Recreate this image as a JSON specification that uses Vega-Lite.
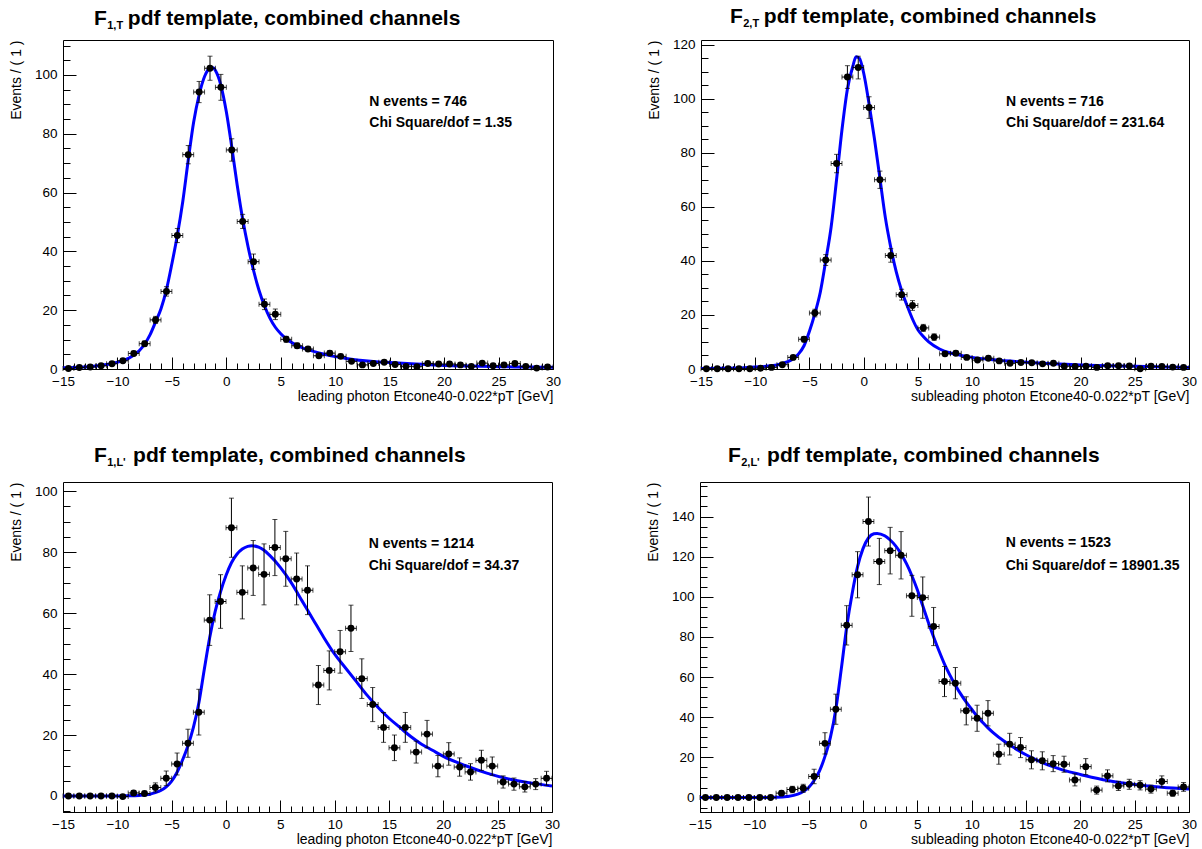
{
"$schema": "https://vega.github.io/schema/vega-lite/v6.json",
"background": "white",
"padding": {"left": 8, "top": 5, "right": 5, "bottom": 0},
"config": {
  "font": "Liberation Sans",
  "view": {"stroke": "black", "strokeWidth": 1},
  "axis": {"grid": false, "domain": false, "labelFont": "Liberation Sans", "labelFontSize": 13.5, "labelColor": "black", "titleFont": "Liberation Sans", "titleFontSize": 14, "titleFontWeight": "normal", "titleColor": "black", "tickColor": "black", "tickWidth": 1, "labelFlush": false, "labelOverlap": false},
  "title": {"font": "Liberation Sans", "fontSize": 21, "fontWeight": "bold", "color": "black", "anchor": "start", "frame": "group", "subtitleFont": "Liberation Sans", "subtitleFontSize": 11, "subtitleFontWeight": "bold", "subtitleColor": "black", "subtitlePadding": -9}
},
"datasets": {
  "pts1": [
    {"x": -14.5, "y": 0.2, "ex": 0.5, "ey": 0.3}, {"x": -13.5, "y": 0.5, "ex": 0.5, "ey": 0.3}, {"x": -12.5, "y": 0.7, "ex": 0.5, "ey": 0.4}, {"x": -11.5, "y": 1.1, "ex": 0.5, "ey": 0.4}, {"x": -10.5, "y": 1.8, "ex": 0.5, "ey": 0.5}, {"x": -9.5, "y": 2.8, "ex": 0.5, "ey": 0.6}, {"x": -8.5, "y": 5.3, "ex": 0.5, "ey": 0.7}, {"x": -7.5, "y": 8.6, "ex": 0.5, "ey": 0.9}, {"x": -6.5, "y": 16.7, "ex": 0.5, "ey": 1.2}, {"x": -5.5, "y": 26.4, "ex": 0.5, "ey": 1.6}, {"x": -4.5, "y": 45.4, "ex": 0.5, "ey": 2.4}, {"x": -3.5, "y": 72.9, "ex": 0.5, "ey": 3.1}, {"x": -2.5, "y": 94.2, "ex": 0.5, "ey": 3.6}, {"x": -1.5, "y": 102.3, "ex": 0.5, "ey": 4.1}, {"x": -0.5, "y": 95.8, "ex": 0.5, "ey": 4.4}, {"x": 0.5, "y": 74.5, "ex": 0.5, "ey": 3.8}, {"x": 1.5, "y": 50.2, "ex": 0.5, "ey": 2.4}, {"x": 2.5, "y": 36.5, "ex": 0.5, "ey": 2.6}, {"x": 3.5, "y": 22.0, "ex": 0.5, "ey": 1.8}, {"x": 4.5, "y": 18.6, "ex": 0.5, "ey": 1.8}, {"x": 5.5, "y": 10.1, "ex": 0.5, "ey": 1.0}, {"x": 6.5, "y": 7.9, "ex": 0.5, "ey": 0.9}, {"x": 7.5, "y": 6.8, "ex": 0.5, "ey": 0.8}, {"x": 8.5, "y": 4.5, "ex": 0.5, "ey": 0.7}, {"x": 9.5, "y": 5.4, "ex": 0.5, "ey": 0.8}, {"x": 10.5, "y": 4.3, "ex": 0.5, "ey": 0.7}, {"x": 11.5, "y": 2.6, "ex": 0.5, "ey": 0.5}, {"x": 12.5, "y": 1.4, "ex": 0.5, "ey": 0.5}, {"x": 13.5, "y": 1.9, "ex": 0.5, "ey": 0.5}, {"x": 14.5, "y": 2.3, "ex": 0.5, "ey": 0.5}, {"x": 15.5, "y": 1.5, "ex": 0.5, "ey": 0.4}, {"x": 16.5, "y": 0.9, "ex": 0.5, "ey": 0.4}, {"x": 17.5, "y": 0.8, "ex": 0.5, "ey": 0.4}, {"x": 18.5, "y": 1.9, "ex": 0.5, "ey": 0.4}, {"x": 19.5, "y": 1.7, "ex": 0.5, "ey": 0.4}, {"x": 20.5, "y": 1.7, "ex": 0.5, "ey": 0.4}, {"x": 21.5, "y": 1.4, "ex": 0.5, "ey": 0.4}, {"x": 22.5, "y": 0.9, "ex": 0.5, "ey": 0.4}, {"x": 23.5, "y": 2.0, "ex": 0.5, "ey": 0.5}, {"x": 24.5, "y": 1.1, "ex": 0.5, "ey": 0.4}, {"x": 25.5, "y": 1.4, "ex": 0.5, "ey": 0.4}, {"x": 26.5, "y": 1.9, "ex": 0.5, "ey": 0.5}, {"x": 27.5, "y": 0.9, "ex": 0.5, "ey": 0.3}, {"x": 28.5, "y": 0.3, "ex": 0.5, "ey": 0.3}, {"x": 29.5, "y": 0.7, "ex": 0.5, "ey": 0.3}
  ],
  "fit1": [
    {"x": -15, "y": 0.4}, {"x": -14, "y": 0.5}, {"x": -13, "y": 0.7}, {"x": -12, "y": 1.0}, {"x": -11, "y": 1.5}, {"x": -10, "y": 2.3}, {"x": -9, "y": 3.6}, {"x": -8, "y": 6.2}, {"x": -7.5, "y": 8.5}, {"x": -7, "y": 11.7}, {"x": -6.5, "y": 16.0}, {"x": -6, "y": 20.5}, {"x": -5.5, "y": 27.0}, {"x": -5, "y": 35.8}, {"x": -4.5, "y": 45.5}, {"x": -4, "y": 57.0}, {"x": -3.5, "y": 71.0}, {"x": -3, "y": 84.0}, {"x": -2.5, "y": 93.2}, {"x": -2, "y": 99.5}, {"x": -1.5, "y": 102.3}, {"x": -1.2, "y": 102.5}, {"x": -1, "y": 101.5}, {"x": -0.5, "y": 96.5}, {"x": 0, "y": 87.5}, {"x": 0.5, "y": 75.5}, {"x": 1, "y": 62.5}, {"x": 1.5, "y": 51.0}, {"x": 2, "y": 41.5}, {"x": 2.5, "y": 33.5}, {"x": 3, "y": 26.8}, {"x": 3.5, "y": 21.5}, {"x": 4, "y": 17.3}, {"x": 4.5, "y": 14.2}, {"x": 5, "y": 12.0}, {"x": 5.5, "y": 10.3}, {"x": 6, "y": 9.0}, {"x": 6.5, "y": 8.0}, {"x": 7, "y": 7.2}, {"x": 8, "y": 6.0}, {"x": 9, "y": 5.0}, {"x": 10, "y": 4.2}, {"x": 11, "y": 3.6}, {"x": 12, "y": 3.1}, {"x": 13, "y": 2.7}, {"x": 14, "y": 2.4}, {"x": 15, "y": 2.2}, {"x": 17, "y": 1.8}, {"x": 20, "y": 1.2}, {"x": 22, "y": 1.0}, {"x": 25, "y": 0.8}, {"x": 28, "y": 0.65}, {"x": 30, "y": 0.6}
  ],
  "stats1": [{"x": 13.13, "y": 90.9, "t": "N events = 746"}, {"x": 13.13, "y": 83.6, "t": "Chi Square/dof = 1.35"}],
  "pts2": [
    {"x": -14.5, "y": 0.1, "ex": 0.5, "ey": 0.1}, {"x": -13.5, "y": 0.1, "ex": 0.5, "ey": 0.1}, {"x": -12.5, "y": 0.1, "ex": 0.5, "ey": 0.1}, {"x": -11.5, "y": 0.1, "ex": 0.5, "ey": 0.1}, {"x": -10.5, "y": 0.1, "ex": 0.5, "ey": 0.1}, {"x": -9.5, "y": 0.3, "ex": 0.5, "ey": 0.2}, {"x": -8.5, "y": 0.6, "ex": 0.5, "ey": 0.3}, {"x": -7.5, "y": 1.6, "ex": 0.5, "ey": 0.4}, {"x": -6.5, "y": 4.3, "ex": 0.5, "ey": 0.7}, {"x": -5.5, "y": 11.0, "ex": 0.5, "ey": 1.0}, {"x": -4.5, "y": 20.7, "ex": 0.5, "ey": 1.4}, {"x": -3.5, "y": 40.3, "ex": 0.5, "ey": 2.0}, {"x": -2.5, "y": 76.0, "ex": 0.5, "ey": 3.4}, {"x": -1.5, "y": 108.0, "ex": 0.5, "ey": 4.2}, {"x": -0.5, "y": 111.5, "ex": 0.5, "ey": 4.2}, {"x": 0.5, "y": 96.7, "ex": 0.5, "ey": 4.0}, {"x": 1.5, "y": 70.0, "ex": 0.5, "ey": 3.2}, {"x": 2.5, "y": 42.0, "ex": 0.5, "ey": 2.5}, {"x": 3.5, "y": 27.5, "ex": 0.5, "ey": 2.0}, {"x": 4.5, "y": 23.5, "ex": 0.5, "ey": 1.8}, {"x": 5.5, "y": 15.2, "ex": 0.5, "ey": 1.3}, {"x": 6.5, "y": 11.8, "ex": 0.5, "ey": 1.2}, {"x": 7.5, "y": 5.6, "ex": 0.5, "ey": 0.8}, {"x": 8.5, "y": 5.8, "ex": 0.5, "ey": 0.8}, {"x": 9.5, "y": 4.3, "ex": 0.5, "ey": 0.7}, {"x": 10.5, "y": 3.3, "ex": 0.5, "ey": 0.6}, {"x": 11.5, "y": 4.0, "ex": 0.5, "ey": 0.7}, {"x": 12.5, "y": 3.0, "ex": 0.5, "ey": 0.6}, {"x": 13.5, "y": 2.1, "ex": 0.5, "ey": 0.5}, {"x": 14.5, "y": 2.4, "ex": 0.5, "ey": 0.5}, {"x": 15.5, "y": 2.3, "ex": 0.5, "ey": 0.5}, {"x": 16.5, "y": 1.9, "ex": 0.5, "ey": 0.5}, {"x": 17.5, "y": 2.1, "ex": 0.5, "ey": 0.5}, {"x": 18.5, "y": 1.0, "ex": 0.5, "ey": 0.4}, {"x": 19.5, "y": 0.9, "ex": 0.5, "ey": 0.4}, {"x": 20.5, "y": 1.0, "ex": 0.5, "ey": 0.4}, {"x": 21.5, "y": 0.6, "ex": 0.5, "ey": 0.3}, {"x": 22.5, "y": 1.2, "ex": 0.5, "ey": 0.4}, {"x": 23.5, "y": 1.2, "ex": 0.5, "ey": 0.4}, {"x": 24.5, "y": 1.1, "ex": 0.5, "ey": 0.4}, {"x": 25.5, "y": 0.1, "ex": 0.5, "ey": 0.2}, {"x": 26.5, "y": 1.0, "ex": 0.5, "ey": 0.4}, {"x": 27.5, "y": 0.9, "ex": 0.5, "ey": 0.3}, {"x": 28.5, "y": 0.7, "ex": 0.5, "ey": 0.3}, {"x": 29.5, "y": 0.6, "ex": 0.5, "ey": 0.3}
  ],
  "fit2": [
    {"x": -15, "y": 0.2}, {"x": -13, "y": 0.3}, {"x": -11, "y": 0.5}, {"x": -10, "y": 0.7}, {"x": -9, "y": 1.0}, {"x": -8, "y": 1.5}, {"x": -7, "y": 2.7}, {"x": -6.5, "y": 3.8}, {"x": -6, "y": 5.6}, {"x": -5.5, "y": 8.6}, {"x": -5, "y": 14.0}, {"x": -4.5, "y": 20.5}, {"x": -4, "y": 28.4}, {"x": -3.5, "y": 40.0}, {"x": -3, "y": 52.5}, {"x": -2.5, "y": 70.0}, {"x": -2, "y": 88.5}, {"x": -1.5, "y": 103.5}, {"x": -1, "y": 112.0}, {"x": -0.7, "y": 115.5}, {"x": -0.4, "y": 115.0}, {"x": 0, "y": 109.5}, {"x": 0.5, "y": 98.0}, {"x": 1, "y": 85.0}, {"x": 1.5, "y": 70.5}, {"x": 2, "y": 56.0}, {"x": 2.5, "y": 45.0}, {"x": 3, "y": 36.0}, {"x": 3.5, "y": 29.0}, {"x": 4, "y": 23.5}, {"x": 4.5, "y": 18.5}, {"x": 5, "y": 14.5}, {"x": 5.5, "y": 12.0}, {"x": 6, "y": 10.0}, {"x": 7, "y": 7.4}, {"x": 8, "y": 5.9}, {"x": 9, "y": 5.0}, {"x": 10, "y": 4.3}, {"x": 12, "y": 3.4}, {"x": 15, "y": 2.5}, {"x": 20, "y": 1.5}, {"x": 25, "y": 1.0}, {"x": 30, "y": 0.6}
  ],
  "stats2": [{"x": 13.13, "y": 98.9, "t": "N events = 716"}, {"x": 13.13, "y": 90.9, "t": "Chi Square/dof = 231.64"}],
  "pts3": [
    {"x": -14.5, "y": 0, "ex": 0.5, "ey": 0.2}, {"x": -13.5, "y": 0, "ex": 0.5, "ey": 0.2}, {"x": -12.5, "y": 0, "ex": 0.5, "ey": 0.2}, {"x": -11.5, "y": 0, "ex": 0.5, "ey": 0.2}, {"x": -10.5, "y": 0, "ex": 0.5, "ey": 0.2}, {"x": -9.5, "y": -0.2, "ex": 0.5, "ey": 0.5}, {"x": -8.5, "y": 1.0, "ex": 0.5, "ey": 0.7}, {"x": -7.5, "y": 0.8, "ex": 0.5, "ey": 0.7}, {"x": -6.5, "y": 2.8, "ex": 0.5, "ey": 1.5}, {"x": -5.5, "y": 5.8, "ex": 0.5, "ey": 2.4}, {"x": -4.5, "y": 10.5, "ex": 0.5, "ey": 3.6}, {"x": -3.5, "y": 17.3, "ex": 0.5, "ey": 4.6}, {"x": -2.5, "y": 27.5, "ex": 0.5, "ey": 7.5}, {"x": -1.5, "y": 57.7, "ex": 0.5, "ey": 8.3}, {"x": -0.5, "y": 63.8, "ex": 0.5, "ey": 8.8}, {"x": 0.5, "y": 88.0, "ex": 0.5, "ey": 9.7}, {"x": 1.5, "y": 66.8, "ex": 0.5, "ey": 8.7}, {"x": 2.5, "y": 74.8, "ex": 0.5, "ey": 9.0}, {"x": 3.5, "y": 72.7, "ex": 0.5, "ey": 10.0}, {"x": 4.5, "y": 81.5, "ex": 0.5, "ey": 9.2}, {"x": 5.5, "y": 77.8, "ex": 0.5, "ey": 9.0}, {"x": 6.5, "y": 71.2, "ex": 0.5, "ey": 8.5}, {"x": 7.5, "y": 67.5, "ex": 0.5, "ey": 8.0}, {"x": 8.5, "y": 36.4, "ex": 0.5, "ey": 6.4}, {"x": 9.5, "y": 41.2, "ex": 0.5, "ey": 6.4}, {"x": 10.5, "y": 47.3, "ex": 0.5, "ey": 7.0}, {"x": 11.5, "y": 55.0, "ex": 0.5, "ey": 7.6}, {"x": 12.5, "y": 38.5, "ex": 0.5, "ey": 6.5}, {"x": 13.5, "y": 30.0, "ex": 0.5, "ey": 5.6}, {"x": 14.5, "y": 22.5, "ex": 0.5, "ey": 4.9}, {"x": 15.5, "y": 15.8, "ex": 0.5, "ey": 4.2}, {"x": 16.5, "y": 22.5, "ex": 0.5, "ey": 4.9}, {"x": 17.5, "y": 14.4, "ex": 0.5, "ey": 3.6}, {"x": 18.5, "y": 20.3, "ex": 0.5, "ey": 4.5}, {"x": 19.5, "y": 9.8, "ex": 0.5, "ey": 3.5}, {"x": 20.5, "y": 13.8, "ex": 0.5, "ey": 3.7}, {"x": 21.5, "y": 9.5, "ex": 0.5, "ey": 3.0}, {"x": 22.5, "y": 7.9, "ex": 0.5, "ey": 2.7}, {"x": 23.5, "y": 11.7, "ex": 0.5, "ey": 3.3}, {"x": 24.5, "y": 9.8, "ex": 0.5, "ey": 3.0}, {"x": 25.5, "y": 4.6, "ex": 0.5, "ey": 2.0}, {"x": 26.5, "y": 3.9, "ex": 0.5, "ey": 2.0}, {"x": 27.5, "y": 3.0, "ex": 0.5, "ey": 1.7}, {"x": 28.5, "y": 3.9, "ex": 0.5, "ey": 1.8}, {"x": 29.5, "y": 5.8, "ex": 0.5, "ey": 2.3}
  ],
  "fit3": [
    {"x": -15, "y": 0}, {"x": -10, "y": 0}, {"x": -9, "y": 0.05}, {"x": -8, "y": 0.2}, {"x": -7, "y": 0.6}, {"x": -6.5, "y": 1.1}, {"x": -6, "y": 1.8}, {"x": -5.5, "y": 3.0}, {"x": -5, "y": 4.9}, {"x": -4.5, "y": 7.8}, {"x": -4, "y": 11.8}, {"x": -3.5, "y": 16.5}, {"x": -3, "y": 22.5}, {"x": -2.5, "y": 30.5}, {"x": -2, "y": 41.5}, {"x": -1.5, "y": 52.0}, {"x": -1, "y": 60.5}, {"x": -0.5, "y": 67.0}, {"x": 0, "y": 72.3}, {"x": 0.5, "y": 76.5}, {"x": 1, "y": 79.3}, {"x": 1.5, "y": 81.0}, {"x": 2, "y": 81.9}, {"x": 2.4, "y": 82.1}, {"x": 3, "y": 81.6}, {"x": 3.5, "y": 80.6}, {"x": 4, "y": 79.0}, {"x": 5, "y": 75.0}, {"x": 6, "y": 70.0}, {"x": 7, "y": 64.0}, {"x": 8, "y": 58.0}, {"x": 9, "y": 52.0}, {"x": 10, "y": 46.5}, {"x": 11, "y": 42.0}, {"x": 12, "y": 37.5}, {"x": 13, "y": 33.0}, {"x": 14, "y": 29.0}, {"x": 15, "y": 25.5}, {"x": 16, "y": 22.5}, {"x": 17, "y": 19.5}, {"x": 18, "y": 17.0}, {"x": 19, "y": 15.0}, {"x": 20, "y": 13.0}, {"x": 22, "y": 10.0}, {"x": 24, "y": 7.5}, {"x": 26, "y": 5.6}, {"x": 28, "y": 4.3}, {"x": 30, "y": 3.3}
  ],
  "stats3": [{"x": 13.13, "y": 82.75, "t": "N events = 1214"}, {"x": 13.13, "y": 75.4, "t": "Chi Square/dof = 34.37"}],
  "pts4": [
    {"x": -14.5, "y": 0, "ex": 0.5, "ey": 0.3}, {"x": -13.5, "y": 0, "ex": 0.5, "ey": 0.3}, {"x": -12.5, "y": 0, "ex": 0.5, "ey": 0.3}, {"x": -11.5, "y": 0, "ex": 0.5, "ey": 0.3}, {"x": -10.5, "y": 0, "ex": 0.5, "ey": 0.3}, {"x": -9.5, "y": 0, "ex": 0.5, "ey": 0.3}, {"x": -8.5, "y": 0, "ex": 0.5, "ey": 0.3}, {"x": -7.5, "y": 2.2, "ex": 0.5, "ey": 1.0}, {"x": -6.5, "y": 4.0, "ex": 0.5, "ey": 1.6}, {"x": -5.5, "y": 4.6, "ex": 0.5, "ey": 2.0}, {"x": -4.5, "y": 10.5, "ex": 0.5, "ey": 3.6}, {"x": -3.5, "y": 27.0, "ex": 0.5, "ey": 5.3}, {"x": -2.5, "y": 44.0, "ex": 0.5, "ey": 7.5}, {"x": -1.5, "y": 85.8, "ex": 0.5, "ey": 9.8}, {"x": -0.5, "y": 111.0, "ex": 0.5, "ey": 11.5}, {"x": 0.5, "y": 137.5, "ex": 0.5, "ey": 12.2}, {"x": 1.5, "y": 117.6, "ex": 0.5, "ey": 11.5}, {"x": 2.5, "y": 123.0, "ex": 0.5, "ey": 11.6}, {"x": 3.5, "y": 120.7, "ex": 0.5, "ey": 11.8}, {"x": 4.5, "y": 100.5, "ex": 0.5, "ey": 10.2}, {"x": 5.5, "y": 99.6, "ex": 0.5, "ey": 10.3}, {"x": 6.5, "y": 85.2, "ex": 0.5, "ey": 9.5}, {"x": 7.5, "y": 57.8, "ex": 0.5, "ey": 7.5}, {"x": 8.5, "y": 57.0, "ex": 0.5, "ey": 7.8}, {"x": 9.5, "y": 43.2, "ex": 0.5, "ey": 7.0}, {"x": 10.5, "y": 39.5, "ex": 0.5, "ey": 6.5}, {"x": 11.5, "y": 42.0, "ex": 0.5, "ey": 6.3}, {"x": 12.5, "y": 21.6, "ex": 0.5, "ey": 5.0}, {"x": 13.5, "y": 26.6, "ex": 0.5, "ey": 5.4}, {"x": 14.5, "y": 24.9, "ex": 0.5, "ey": 5.0}, {"x": 15.5, "y": 18.8, "ex": 0.5, "ey": 4.5}, {"x": 16.5, "y": 18.3, "ex": 0.5, "ey": 4.5}, {"x": 17.5, "y": 16.9, "ex": 0.5, "ey": 4.0}, {"x": 18.5, "y": 16.6, "ex": 0.5, "ey": 4.0}, {"x": 19.5, "y": 8.8, "ex": 0.5, "ey": 3.0}, {"x": 20.5, "y": 15.4, "ex": 0.5, "ey": 4.0}, {"x": 21.5, "y": 3.7, "ex": 0.5, "ey": 2.0}, {"x": 22.5, "y": 10.8, "ex": 0.5, "ey": 3.0}, {"x": 23.5, "y": 5.8, "ex": 0.5, "ey": 2.3}, {"x": 24.5, "y": 6.6, "ex": 0.5, "ey": 2.5}, {"x": 25.5, "y": 6.1, "ex": 0.5, "ey": 2.3}, {"x": 26.5, "y": 4.2, "ex": 0.5, "ey": 2.0}, {"x": 27.5, "y": 8.0, "ex": 0.5, "ey": 2.8}, {"x": 28.5, "y": 2.2, "ex": 0.5, "ey": 1.5}, {"x": 29.5, "y": 5.3, "ex": 0.5, "ey": 2.2}
  ],
  "fit4": [
    {"x": -15, "y": 0}, {"x": -9, "y": 0}, {"x": -8, "y": 0.1}, {"x": -7, "y": 0.5}, {"x": -6, "y": 1.7}, {"x": -5.5, "y": 3.0}, {"x": -5, "y": 5.0}, {"x": -4.5, "y": 8.5}, {"x": -4, "y": 13.3}, {"x": -3.5, "y": 20.5}, {"x": -3, "y": 30.0}, {"x": -2.5, "y": 44.0}, {"x": -2, "y": 64.0}, {"x": -1.5, "y": 85.0}, {"x": -1, "y": 101.5}, {"x": -0.5, "y": 115.0}, {"x": 0, "y": 124.0}, {"x": 0.5, "y": 129.3}, {"x": 1, "y": 131.4}, {"x": 1.3, "y": 131.6}, {"x": 2, "y": 130.4}, {"x": 2.5, "y": 128.3}, {"x": 3, "y": 125.4}, {"x": 3.5, "y": 121.5}, {"x": 4, "y": 116.5}, {"x": 4.5, "y": 110.5}, {"x": 5, "y": 103.5}, {"x": 5.5, "y": 95.5}, {"x": 6, "y": 87.5}, {"x": 6.5, "y": 80.0}, {"x": 7, "y": 73.0}, {"x": 7.5, "y": 66.5}, {"x": 8, "y": 61.0}, {"x": 8.5, "y": 56.0}, {"x": 9, "y": 51.5}, {"x": 9.5, "y": 47.5}, {"x": 10, "y": 44.0}, {"x": 10.5, "y": 40.5}, {"x": 11, "y": 37.5}, {"x": 11.5, "y": 34.7}, {"x": 12, "y": 32.2}, {"x": 13, "y": 28.0}, {"x": 14, "y": 24.5}, {"x": 15, "y": 21.3}, {"x": 16, "y": 18.6}, {"x": 17, "y": 16.3}, {"x": 18, "y": 14.4}, {"x": 19, "y": 12.8}, {"x": 20, "y": 11.5}, {"x": 22.5, "y": 8.5}, {"x": 25, "y": 6.5}, {"x": 27.5, "y": 5.1}, {"x": 30, "y": 4.2}
  ],
  "stats4": [{"x": 13.13, "y": 126.6, "t": "N events = 1523"}, {"x": 13.13, "y": 115.4, "t": "Chi Square/dof = 18901.35"}]
},
"spacing": 40,
"vconcat": [
 {"hconcat": [
  {"width": 490, "height": 329,
   "title": {"text": "F\u2002\u2002pdf template, combined channels", "subtitle": "\u2060\u2003\u20091,T", "dx": 31, "offset": 9},
   "layer": [
    {"data": {"name": "fit1"}, "mark": {"type": "line", "color": "#0000ff", "strokeWidth": 3, "interpolate": "monotone", "clip": true},
     "encoding": {
      "x": {"field": "x", "type": "quantitative", "scale": {"domain": [-15, 30], "nice": false, "zero": false}, "axis": {"orient": "bottom", "values": [-15, -10, -5, 0, 5, 10, 15, 20, 25, 30], "tickSize": -12, "labelPadding": 17, "title": "leading photon Etcone40-0.022*pT [GeV]", "titleAnchor": "end", "titlePadding": 2}},
      "y": {"field": "y", "type": "quantitative", "scale": {"domain": [0, 111.9], "nice": false, "zero": false}, "axis": {"orient": "left", "values": [0, 20, 40, 60, 80, 100], "tickSize": -13, "labelPadding": 19, "title": "Events / ( 1 )", "titleAnchor": "end", "titlePadding": 11}}
     }},
    {"data": {"name": "pts1"}, "mark": {"type": "errorbar", "color": "black", "thickness": 1, "ticks": {"size": 5, "color": "black"}},
     "encoding": {
      "x": {"field": "x", "type": "quantitative", "scale": {"domain": [-15, 30], "nice": false, "zero": false}, "axis": {"orient": "bottom", "values": [-15,-14,-13,-12,-11,-10,-9,-8,-7,-6,-5,-4,-3,-2,-1,0,1,2,3,4,5,6,7,8,9,10,11,12,13,14,15,16,17,18,19,20,21,22,23,24,25,26,27,28,29,30], "tickSize": -6, "labels": false, "title": null}},
      "xError": {"field": "ex"},
      "y": {"field": "y", "type": "quantitative", "scale": {"domain": [0, 111.9], "nice": false, "zero": false}, "axis": {"orient": "left", "values": [0,5,10,15,20,25,30,35,40,45,50,55,60,65,70,75,80,85,90,95,100,105,110], "tickSize": -7, "labels": false, "title": null}}
     }},
    {"data": {"name": "pts1"}, "mark": {"type": "errorbar", "color": "black", "thickness": 1, "ticks": {"size": 5, "color": "black"}},
     "encoding": {
      "x": {"field": "x", "type": "quantitative", "scale": {"domain": [-15, 30], "nice": false, "zero": false}, "axis": null},
      "y": {"field": "y", "type": "quantitative", "scale": {"domain": [0, 111.9], "nice": false, "zero": false}, "axis": null},
      "yError": {"field": "ey"}
     }},
    {"data": {"name": "pts1"}, "mark": {"type": "point", "shape": "circle", "filled": true, "color": "black", "size": 48, "opacity": 1},
     "encoding": {
      "x": {"field": "x", "type": "quantitative", "scale": {"domain": [-15, 30], "nice": false, "zero": false}, "axis": null},
      "y": {"field": "y", "type": "quantitative", "scale": {"domain": [0, 111.9], "nice": false, "zero": false}, "axis": null}
     }},
    {"data": {"name": "stats1"}, "mark": {"type": "text", "align": "left", "baseline": "middle", "fontSize": 14, "fontWeight": "bold", "color": "black"},
     "encoding": {
      "x": {"field": "x", "type": "quantitative", "scale": {"domain": [-15, 30], "nice": false, "zero": false}, "axis": null},
      "y": {"field": "y", "type": "quantitative", "scale": {"domain": [0, 111.9], "nice": false, "zero": false}, "axis": null},
      "text": {"field": "t"}
     }}
   ],
   "resolve": {"axis": {"x": "independent", "y": "independent"}}
  },
  {"width": 488, "height": 329,
   "title": {"text": "F\u2002\u2002pdf template, combined channels", "subtitle": "\u2060\u2003\u20092,T", "dx": 29, "offset": 9},
   "layer": [
    {"data": {"name": "fit2"}, "mark": {"type": "line", "color": "#0000ff", "strokeWidth": 3, "interpolate": "monotone", "clip": true},
     "encoding": {
      "x": {"field": "x", "type": "quantitative", "scale": {"domain": [-15, 30], "nice": false, "zero": false}, "axis": {"orient": "bottom", "values": [-15, -10, -5, 0, 5, 10, 15, 20, 25, 30], "tickSize": -12, "labelPadding": 17, "title": "subleading photon Etcone40-0.022*pT [GeV]", "titleAnchor": "end", "titlePadding": 2}},
      "y": {"field": "y", "type": "quantitative", "scale": {"domain": [0, 121.7], "nice": false, "zero": false}, "axis": {"orient": "left", "values": [0, 20, 40, 60, 80, 100, 120], "tickSize": -13, "labelPadding": 19, "title": "Events / ( 1 )", "titleAnchor": "end", "titlePadding": 11}}
     }},
    {"data": {"name": "pts2"}, "mark": {"type": "errorbar", "color": "black", "thickness": 1, "ticks": {"size": 5, "color": "black"}},
     "encoding": {
      "x": {"field": "x", "type": "quantitative", "scale": {"domain": [-15, 30], "nice": false, "zero": false}, "axis": {"orient": "bottom", "values": [-15,-14,-13,-12,-11,-10,-9,-8,-7,-6,-5,-4,-3,-2,-1,0,1,2,3,4,5,6,7,8,9,10,11,12,13,14,15,16,17,18,19,20,21,22,23,24,25,26,27,28,29,30], "tickSize": -6, "labels": false, "title": null}},
      "xError": {"field": "ex"},
      "y": {"field": "y", "type": "quantitative", "scale": {"domain": [0, 121.7], "nice": false, "zero": false}, "axis": {"orient": "left", "values": [0,5,10,15,20,25,30,35,40,45,50,55,60,65,70,75,80,85,90,95,100,105,110,115,120], "tickSize": -7, "labels": false, "title": null}}
     }},
    {"data": {"name": "pts2"}, "mark": {"type": "errorbar", "color": "black", "thickness": 1, "ticks": {"size": 5, "color": "black"}},
     "encoding": {
      "x": {"field": "x", "type": "quantitative", "scale": {"domain": [-15, 30], "nice": false, "zero": false}, "axis": null},
      "y": {"field": "y", "type": "quantitative", "scale": {"domain": [0, 121.7], "nice": false, "zero": false}, "axis": null},
      "yError": {"field": "ey"}
     }},
    {"data": {"name": "pts2"}, "mark": {"type": "point", "shape": "circle", "filled": true, "color": "black", "size": 48, "opacity": 1},
     "encoding": {
      "x": {"field": "x", "type": "quantitative", "scale": {"domain": [-15, 30], "nice": false, "zero": false}, "axis": null},
      "y": {"field": "y", "type": "quantitative", "scale": {"domain": [0, 121.7], "nice": false, "zero": false}, "axis": null}
     }},
    {"data": {"name": "stats2"}, "mark": {"type": "text", "align": "left", "baseline": "middle", "fontSize": 14, "fontWeight": "bold", "color": "black"},
     "encoding": {
      "x": {"field": "x", "type": "quantitative", "scale": {"domain": [-15, 30], "nice": false, "zero": false}, "axis": null},
      "y": {"field": "y", "type": "quantitative", "scale": {"domain": [0, 121.7], "nice": false, "zero": false}, "axis": null},
      "text": {"field": "t"}
     }}
   ],
   "resolve": {"axis": {"x": "independent", "y": "independent"}}
  }
 ], "spacing": 84},
 {"hconcat": [
  {"width": 489, "height": 330,
   "title": {"text": "F\u2002\u2002\u2005pdf template, combined channels", "subtitle": "\u2060\u2003\u20091,L'", "dx": 31, "offset": 14},
   "layer": [
    {"data": {"name": "fit3"}, "mark": {"type": "line", "color": "#0000ff", "strokeWidth": 3, "interpolate": "monotone", "clip": true},
     "encoding": {
      "x": {"field": "x", "type": "quantitative", "scale": {"domain": [-15, 30], "nice": false, "zero": false}, "axis": {"orient": "bottom", "values": [-15, -10, -5, 0, 5, 10, 15, 20, 25, 30], "tickSize": -12, "labelPadding": 17, "title": "leading photon Etcone40-0.022*pT [GeV]", "titleAnchor": "end", "titlePadding": 2}},
      "y": {"field": "y", "type": "quantitative", "scale": {"domain": [-5.25, 103], "nice": false, "zero": false}, "axis": {"orient": "left", "values": [0, 20, 40, 60, 80, 100], "tickSize": -13, "labelPadding": 19, "title": "Events / ( 1 )", "titleAnchor": "end", "titlePadding": 11}}
     }},
    {"data": {"name": "pts3"}, "mark": {"type": "errorbar", "color": "black", "thickness": 1, "ticks": {"size": 5, "color": "black"}},
     "encoding": {
      "x": {"field": "x", "type": "quantitative", "scale": {"domain": [-15, 30], "nice": false, "zero": false}, "axis": {"orient": "bottom", "values": [-15,-14,-13,-12,-11,-10,-9,-8,-7,-6,-5,-4,-3,-2,-1,0,1,2,3,4,5,6,7,8,9,10,11,12,13,14,15,16,17,18,19,20,21,22,23,24,25,26,27,28,29,30], "tickSize": -6, "labels": false, "title": null}},
      "xError": {"field": "ex"},
      "y": {"field": "y", "type": "quantitative", "scale": {"domain": [-5.25, 103], "nice": false, "zero": false}, "axis": {"orient": "left", "values": [-5,0,5,10,15,20,25,30,35,40,45,50,55,60,65,70,75,80,85,90,95,100], "tickSize": -7, "labels": false, "title": null}}
     }},
    {"data": {"name": "pts3"}, "mark": {"type": "errorbar", "color": "black", "thickness": 1, "ticks": {"size": 5, "color": "black"}},
     "encoding": {
      "x": {"field": "x", "type": "quantitative", "scale": {"domain": [-15, 30], "nice": false, "zero": false}, "axis": null},
      "y": {"field": "y", "type": "quantitative", "scale": {"domain": [-5.25, 103], "nice": false, "zero": false}, "axis": null},
      "yError": {"field": "ey"}
     }},
    {"data": {"name": "pts3"}, "mark": {"type": "point", "shape": "circle", "filled": true, "color": "black", "size": 48, "opacity": 1},
     "encoding": {
      "x": {"field": "x", "type": "quantitative", "scale": {"domain": [-15, 30], "nice": false, "zero": false}, "axis": null},
      "y": {"field": "y", "type": "quantitative", "scale": {"domain": [-5.25, 103], "nice": false, "zero": false}, "axis": null}
     }},
    {"data": {"name": "stats3"}, "mark": {"type": "text", "align": "left", "baseline": "middle", "fontSize": 14, "fontWeight": "bold", "color": "black"},
     "encoding": {
      "x": {"field": "x", "type": "quantitative", "scale": {"domain": [-15, 30], "nice": false, "zero": false}, "axis": null},
      "y": {"field": "y", "type": "quantitative", "scale": {"domain": [-5.25, 103], "nice": false, "zero": false}, "axis": null},
      "text": {"field": "t"}
     }}
   ],
   "resolve": {"axis": {"x": "independent", "y": "independent"}}
  },
  {"width": 489, "height": 330,
   "title": {"text": "F\u2002\u2002\u2005pdf template, combined channels", "subtitle": "\u2060\u2003\u20092,L'", "dx": 28, "offset": 14},
   "layer": [
    {"data": {"name": "fit4"}, "mark": {"type": "line", "color": "#0000ff", "strokeWidth": 3, "interpolate": "monotone", "clip": true},
     "encoding": {
      "x": {"field": "x", "type": "quantitative", "scale": {"domain": [-15, 30], "nice": false, "zero": false}, "axis": {"orient": "bottom", "values": [-15, -10, -5, 0, 5, 10, 15, 20, 25, 30], "tickSize": -12, "labelPadding": 17, "title": "subleading photon Etcone40-0.022*pT [GeV]", "titleAnchor": "end", "titlePadding": 2}},
      "y": {"field": "y", "type": "quantitative", "scale": {"domain": [-7.2, 157.2], "nice": false, "zero": false}, "axis": {"orient": "left", "values": [0, 20, 40, 60, 80, 100, 120, 140], "tickSize": -13, "labelPadding": 19, "title": "Events / ( 1 )", "titleAnchor": "end", "titlePadding": 11}}
     }},
    {"data": {"name": "pts4"}, "mark": {"type": "errorbar", "color": "black", "thickness": 1, "ticks": {"size": 5, "color": "black"}},
     "encoding": {
      "x": {"field": "x", "type": "quantitative", "scale": {"domain": [-15, 30], "nice": false, "zero": false}, "axis": {"orient": "bottom", "values": [-15,-14,-13,-12,-11,-10,-9,-8,-7,-6,-5,-4,-3,-2,-1,0,1,2,3,4,5,6,7,8,9,10,11,12,13,14,15,16,17,18,19,20,21,22,23,24,25,26,27,28,29,30], "tickSize": -6, "labels": false, "title": null}},
      "xError": {"field": "ex"},
      "y": {"field": "y", "type": "quantitative", "scale": {"domain": [-7.2, 157.2], "nice": false, "zero": false}, "axis": {"orient": "left", "values": [-5,0,5,10,15,20,25,30,35,40,45,50,55,60,65,70,75,80,85,90,95,100,105,110,115,120,125,130,135,140,145,150,155], "tickSize": -7, "labels": false, "title": null}}
     }},
    {"data": {"name": "pts4"}, "mark": {"type": "errorbar", "color": "black", "thickness": 1, "ticks": {"size": 5, "color": "black"}},
     "encoding": {
      "x": {"field": "x", "type": "quantitative", "scale": {"domain": [-15, 30], "nice": false, "zero": false}, "axis": null},
      "y": {"field": "y", "type": "quantitative", "scale": {"domain": [-7.2, 157.2], "nice": false, "zero": false}, "axis": null},
      "yError": {"field": "ey"}
     }},
    {"data": {"name": "pts4"}, "mark": {"type": "point", "shape": "circle", "filled": true, "color": "black", "size": 48, "opacity": 1},
     "encoding": {
      "x": {"field": "x", "type": "quantitative", "scale": {"domain": [-15, 30], "nice": false, "zero": false}, "axis": null},
      "y": {"field": "y", "type": "quantitative", "scale": {"domain": [-7.2, 157.2], "nice": false, "zero": false}, "axis": null}
     }},
    {"data": {"name": "stats4"}, "mark": {"type": "text", "align": "left", "baseline": "middle", "fontSize": 14, "fontWeight": "bold", "color": "black"},
     "encoding": {
      "x": {"field": "x", "type": "quantitative", "scale": {"domain": [-15, 30], "nice": false, "zero": false}, "axis": null},
      "y": {"field": "y", "type": "quantitative", "scale": {"domain": [-7.2, 157.2], "nice": false, "zero": false}, "axis": null},
      "text": {"field": "t"}
     }}
   ],
   "resolve": {"axis": {"x": "independent", "y": "independent"}}
  }
 ], "spacing": 84}
]
}
